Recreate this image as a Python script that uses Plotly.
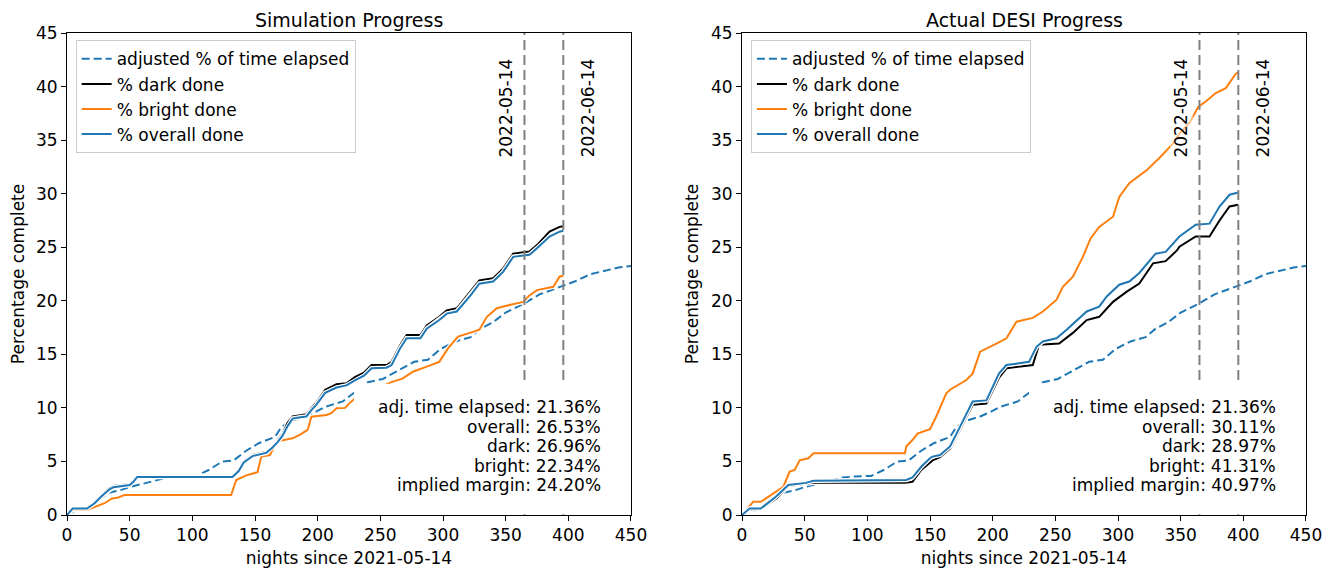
import plotly.graph_objects as go
from plotly.subplots import make_subplots

BLUE = "#1f77b4"
ORANGE = "#ff7f0e"
BLACK = "#000000"
GRAY = "#808080"
FONT = "DejaVu Sans, Verdana, sans-serif"
FS = 17

# adjusted % of time elapsed (same curve in both panels)
elapsed_x = [0, 5, 16, 25, 34, 42, 50, 60, 70, 80, 90, 103, 113, 124, 133, 143, 153,
             166, 171, 179, 190, 198, 206, 220, 230, 240, 252, 264, 277, 288, 298, 310,
             322, 330, 340, 350, 364, 377, 394, 405, 418, 430, 440, 450]
elapsed_y = [0, 0.3, 0.6, 1.4, 2.1, 2.3, 2.6, 2.9, 3.2, 3.5, 3.6, 3.65, 4.2, 5.0, 5.1, 6.0, 6.7,
             7.3, 8.2, 8.8, 9.2, 9.6, 10.1, 10.6, 11.5, 12.4, 12.7, 13.5, 14.3, 14.5, 15.5, 16.2,
             16.6, 17.4, 18.0, 18.9, 19.7, 20.6, 21.36, 21.8, 22.5, 22.8, 23.1, 23.25]

# Simulation panel
sim_dark_x = [0, 4.5, 16, 22, 28, 34, 37, 43, 50, 53, 56, 132, 137, 141, 148, 159, 164, 168,
              172, 176, 180, 185, 191, 195, 199, 206, 215, 223, 230, 237, 243, 255, 259, 266,
              271, 282, 287, 297, 303, 311, 316, 322, 329, 340, 348, 356, 369, 375, 385, 393, 396]
sim_dark_y = [0, 0.6, 0.6, 1.2, 1.9, 2.5, 2.7, 2.8, 2.9, 3.2, 3.64, 3.64, 4.2, 5.0, 5.6, 5.9, 6.4, 7.0,
              7.6, 8.6, 9.2, 9.3, 9.4, 10.0, 10.5, 11.7, 12.2, 12.3, 12.9, 13.3, 14.0, 14.0, 14.3, 15.9,
              16.8, 16.8, 17.7, 18.5, 19.1, 19.3, 20.0, 20.85, 21.9, 22.1, 23.0, 24.4, 24.6, 25.2, 26.45, 26.9, 26.96]
sim_overall_x = sim_dark_x
sim_overall_y = [0, 0.6, 0.6, 1.1, 1.8, 2.4, 2.6, 2.7, 2.8, 3.1, 3.55, 3.55, 4.1, 4.9, 5.5, 5.8, 6.3, 6.8,
                 7.4, 8.3, 9.0, 9.1, 9.2, 9.8, 10.3, 11.4, 11.9, 12.1, 12.6, 13.0, 13.7, 13.75, 14.0, 15.6,
                 16.5, 16.5, 17.4, 18.2, 18.8, 19.0, 19.7, 20.5, 21.6, 21.8, 22.7, 24.1, 24.3, 24.9, 26.0, 26.45, 26.53]
sim_bright_x = [0, 4.5, 16, 25, 30, 36, 40, 46, 131, 135, 143, 152, 155, 162, 167, 180, 186, 192,
                195, 207, 211, 215, 222, 225, 230, 240, 250, 260, 268, 276, 287, 297, 304, 312, 324,
                329, 335, 343, 353, 364, 369, 375, 388, 393, 396]
sim_bright_y = [0, 0.47, 0.47, 0.9, 1.1, 1.55, 1.6, 1.87, 1.87, 3.27, 3.7, 4.0, 5.45, 5.6, 6.85, 7.16, 7.5, 7.94,
                9.18, 9.34, 9.5, 9.96, 10.0, 10.4, 10.9, 11.5, 12.0, 12.45, 12.76, 13.38, 13.85, 14.3, 15.56, 16.65, 17.1,
                17.3, 18.5, 19.3, 19.6, 19.9, 20.5, 21.0, 21.3, 22.25, 22.34]

# Actual DESI panel
desi_dark_x = [0, 6, 15, 22, 28, 37, 45, 52, 57, 130, 136, 143, 150, 152, 158, 166, 174, 184, 195,
               205, 211, 232, 237, 253, 264, 275, 285, 296, 307, 317, 328, 338, 347, 349, 362, 373,
               381, 389, 396]
desi_dark_y = [0, 0.5, 0.55, 1.1, 1.6, 2.7, 2.8, 2.9, 3.0, 3.0, 3.1, 4.2, 4.9, 5.1, 5.4, 6.2, 8.0, 10.3, 10.4,
               12.8, 13.7, 14.0, 15.9, 16.0, 17.0, 18.2, 18.5, 19.9, 20.85, 21.6, 23.5, 23.7, 24.7, 25.05, 26.0, 26.0,
               27.5, 28.8, 28.97]
desi_overall_x = [0, 6, 15, 22, 27, 37, 45, 51, 57, 131, 136, 143, 150, 152, 158, 166, 174, 184, 195,
                  205, 211, 229, 235, 240, 251, 259, 275, 285, 291, 301, 309, 317, 330, 338, 349, 362,
                  373, 381, 389, 396]
desi_overall_y = [0, 0.6, 0.6, 1.2, 1.7, 2.8, 2.9, 3.0, 3.2, 3.27, 3.5, 4.5, 5.3, 5.45, 5.6, 6.4, 8.25, 10.6, 10.7,
                  13.2, 14.0, 14.3, 15.7, 16.2, 16.5, 17.3, 19.0, 19.45, 20.4, 21.5, 21.8, 22.6, 24.4, 24.56, 26.0, 27.1,
                  27.2, 28.8, 29.9, 30.11]
desi_bright_x = [0, 9, 15, 25, 33, 38, 42, 46, 53, 57, 130, 131, 136, 140, 150, 155, 163, 166, 179,
                 184, 190, 203, 211, 219, 232, 240, 251, 256, 264, 272, 278, 285, 296, 301, 309, 323,
                 334, 344, 349, 357, 364, 370, 378, 386, 394, 396]
desi_bright_y = [0, 1.24, 1.24, 2.0, 2.64, 4.05, 4.2, 5.1, 5.3, 5.76, 5.76, 6.4, 7.0, 7.6, 8.0, 9.2, 11.36, 11.7, 12.6,
                 13.2, 15.25, 16.0, 16.5, 18.05, 18.4, 19.0, 20.1, 21.3, 22.25, 24.1, 25.8, 26.9, 27.85, 29.7, 30.97, 32.2,
                 33.45, 34.7, 35.6, 36.6, 38.1, 38.6, 39.4, 39.85, 41.2, 41.31]

milestone_nights = [365, 396]
milestone_labels = ["2022-05-14", "2022-06-14"]

panel_titles = ["Simulation Progress", "Actual DESI Progress"]
sim_stats = ["adj. time elapsed: 21.36%", "overall: 26.53%", "dark: 26.96%",
             "bright: 22.34%", "implied margin: 24.20%"]
desi_stats = ["adj. time elapsed: 21.36%", "overall: 30.11%", "dark: 28.97%",
              "bright: 41.31%", "implied margin: 40.97%"]

panels = [
    dict(dark=(sim_dark_x, sim_dark_y), bright=(sim_bright_x, sim_bright_y),
         overall=(sim_overall_x, sim_overall_y), stats=sim_stats, legend="legend"),
    dict(dark=(desi_dark_x, desi_dark_y), bright=(desi_bright_x, desi_bright_y),
         overall=(desi_overall_x, desi_overall_y), stats=desi_stats, legend="legend2"),
]

fig = make_subplots(rows=1, cols=2, horizontal_spacing=0.0896)


def add_line(col, xs, ys, name, color, leg, dash=None, outline=True):
    if outline:
        fig.add_trace(go.Scatter(
            x=xs, y=ys, mode="lines", showlegend=False, hoverinfo="skip",
            line=dict(color="white", width=4.5, dash=dash),
        ), row=1, col=col)
    fig.add_trace(go.Scatter(
        x=xs, y=ys, mode="lines", name=name, legend=leg,
        line=dict(color=color, width=2, dash=dash),
    ), row=1, col=col)


for i, p in enumerate(panels):
    col = i + 1
    leg = p["legend"]
    add_line(col, elapsed_x, elapsed_y, "adjusted % of time elapsed", BLUE, leg,
             dash="8px,4px", outline=False)
    add_line(col, *p["dark"], "% dark done", BLACK, leg)
    add_line(col, *p["bright"], "% bright done", ORANGE, leg)
    add_line(col, *p["overall"], "% overall done", BLUE, leg)

    for n in milestone_nights:
        fig.add_shape(type="line", x0=n, x1=n, y0=0, y1=45,
                      line=dict(color=GRAY, width=2, dash="10px,5px"),
                      layer="above", row=1, col=col)
    # white box behind the summary text
    fig.add_shape(type="rect", x0=229, x1=446, y0=0.06, y1=12.25,
                  fillcolor="white", line_width=0, layer="above", row=1, col=col)

    xref = "x" if col == 1 else "x2"
    yref = "y" if col == 1 else "y2"
    for k, (n, lab) in enumerate(zip(milestone_nights, milestone_labels)):
        fig.add_annotation(
            x=n, y=42.8, xref=xref, yref=yref, text=lab, showarrow=False,
            textangle=-90, xanchor="right" if k == 0 else "left", yanchor="top",
            xshift=-6 if k == 0 else 13, bgcolor="rgba(255,255,255,0.5)",
            font=dict(family=FONT, size=FS, color="black"),
        )
    for k, line in enumerate(p["stats"]):
        fig.add_annotation(
            x=427.5, y=10.08, xref=xref, yref=yref, text=line, yshift=-19.6 * k,
            showarrow=False, xanchor="right", yanchor="middle",
            font=dict(family=FONT, size=FS, color="black"),
        )

    dom = fig.layout[f"xaxis{'' if col == 1 else '2'}"].domain
    fig.add_annotation(
        x=(dom[0] + dom[1]) / 2, y=1, xref="paper", yref="paper", yshift=0,
        text=panel_titles[i], showarrow=False, xanchor="center", yanchor="bottom",
        font=dict(family=FONT, size=19, color="black"),
    )

axis_common = dict(
    showline=True, linecolor="black", linewidth=1, mirror=True,
    ticks="outside", ticklen=5, tickwidth=1, tickcolor="black",
    showgrid=False, zeroline=False, automargin=False,
    tickfont=dict(family=FONT, size=FS, color="black"),
)
fig.update_xaxes(range=[0, 450], tickmode="linear", tick0=0, dtick=50,
                 title=dict(text="nights since 2021-05-14", standoff=7,
                            font=dict(family=FONT, size=FS, color="black")),
                 **axis_common)
fig.update_yaxes(range=[0, 45], tickmode="linear", tick0=0, dtick=5,
                 title=dict(text="Percentage complete", standoff=8,
                            font=dict(family=FONT, size=FS, color="black")),
                 **axis_common)

legend_common = dict(
    yanchor="top", y=0.985, xanchor="left",
    bgcolor="rgba(255,255,255,0.8)", bordercolor="#cccccc", borderwidth=1,
    font=dict(family=FONT, size=FS, color="black"), tracegroupgap=0,
)
# the page body adds an 8px offset, so the figure is 8px smaller than the window
fig.update_layout(
    width=1325, height=564,
    paper_bgcolor="white", plot_bgcolor="white",
    margin=dict(l=59, r=27, t=25, b=57),
    showlegend=True,
    legend=dict(x=0.007, **legend_common),
    legend2=dict(x=0.552, **legend_common),
)

fig.write_html("out.html")
